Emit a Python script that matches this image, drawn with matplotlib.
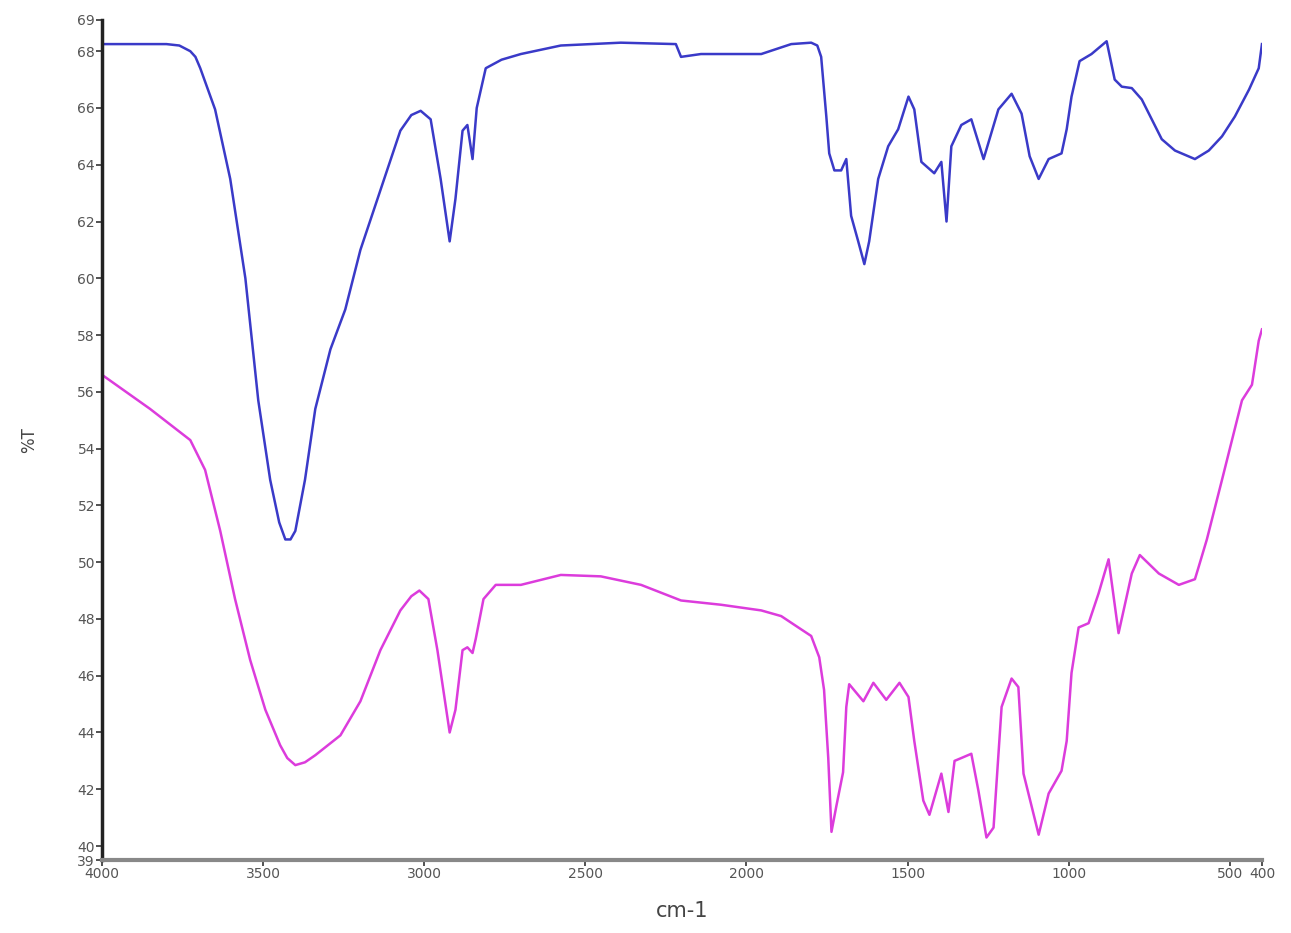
import numpy as np
import matplotlib
matplotlib.use("Agg")
import matplotlib.pyplot as plt

# wavenumber (cm-1) and %T
wn_blue = [4000, 3800, 3760, 3726, 3710, 3695, 3649, 3602, 3555, 3515, 3478, 3450, 3431, 3415, 3400,
           3370, 3338, 3291, 3245, 3198, 3136, 3074, 3040, 3011, 2980, 2949, 2921, 2903, 2881, 2866,
           2850, 2837, 2809, 2760, 2700, 2576, 2390, 2219, 2203, 2141, 1954, 1861, 1799, 1780, 1768,
           1752, 1743, 1727, 1706, 1690, 1675, 1653, 1634, 1619, 1591, 1560, 1529, 1497, 1479, 1457,
           1417, 1395, 1379, 1364, 1333, 1302, 1264, 1218, 1177, 1146, 1121, 1093, 1062, 1022, 1006,
           991, 966, 929, 882, 857, 835, 804, 773, 742, 711, 670, 608, 565, 524, 484, 440, 410, 400]
t_blue = [68.25, 68.25, 68.2, 68.0, 67.8, 67.4, 65.95, 63.5, 60.0, 55.7, 52.9, 51.4, 50.8, 50.8, 51.1,
          52.9, 55.4, 57.5, 58.9, 61.0, 63.1, 65.2, 65.75, 65.9, 65.6, 63.5, 61.3, 62.8, 65.2, 65.4,
          64.2, 66.0, 67.4, 67.7, 67.9, 68.2, 68.3, 68.25, 67.8, 67.9, 67.9, 68.25, 68.3, 68.2, 67.8,
          65.7, 64.4, 63.8, 63.8, 64.2, 62.2, 61.3, 60.5, 61.3, 63.5, 64.65, 65.25, 66.4, 65.95, 64.1,
          63.7, 64.1, 62.0, 64.65, 65.4, 65.6, 64.2, 65.95, 66.5, 65.8, 64.3, 63.5, 64.2, 64.4, 65.25,
          66.4, 67.65, 67.9, 68.35, 67.0, 66.75, 66.7, 66.3, 65.6, 64.9, 64.5, 64.2, 64.5, 65.0, 65.7, 66.65, 67.4, 68.25]

wn_mag = [4000, 3851, 3726, 3680, 3633, 3587, 3540, 3493, 3447, 3425, 3400, 3370, 3338, 3260, 3198,
          3136, 3074, 3040, 3015, 2987, 2959, 2921, 2903, 2881, 2866, 2850, 2840, 2816, 2778, 2700,
          2576, 2452, 2327, 2203, 2079, 1954, 1892, 1839, 1799, 1774, 1759, 1746, 1736, 1721, 1700,
          1690, 1681, 1637, 1606, 1566, 1525, 1497, 1479, 1451, 1432, 1395, 1373, 1354, 1333, 1302,
          1280, 1255, 1233, 1208, 1177, 1156, 1140, 1093, 1062, 1022, 1006, 991, 969, 938, 907,
          876, 845, 804, 779, 720, 658, 608, 596, 571, 524, 462, 431, 410, 400]
t_mag = [56.6, 55.4, 54.3, 53.25, 51.1, 48.7, 46.55, 44.8, 43.55, 43.1, 42.85, 42.95, 43.2, 43.9, 45.1,
         46.9, 48.3, 48.8, 49.0, 48.7, 46.9, 44.0, 44.8, 46.9, 47.0, 46.8, 47.3, 48.7, 49.2, 49.2,
         49.55, 49.5, 49.2, 48.65, 48.5, 48.3, 48.1, 47.7, 47.4, 46.65, 45.5, 43.1, 40.5, 41.4, 42.6,
         44.9, 45.7, 45.1, 45.75, 45.15, 45.75, 45.25, 43.7, 41.6, 41.1, 42.55, 41.2, 43.0, 43.1, 43.25,
         41.95, 40.3, 40.65, 44.9, 45.9, 45.6, 42.55, 40.4, 41.85, 42.65, 43.7, 46.1, 47.7, 47.85, 48.9,
         50.1, 47.5, 49.6, 50.25, 49.6, 49.2, 49.4, 49.85, 50.8, 52.9, 55.7, 56.25, 57.8, 58.2]

y_lo, y_hi = 39.5, 69.1
yticks = [y_lo] + list(range(40, 69, 2)) + [y_hi]
ylabels = ["39"] + [str(v) for v in range(40, 69, 2)] + ["69"]
xticks = [4000, 3500, 3000, 2500, 2000, 1500, 1000, 500, 400]

fig = plt.figure(figsize=(12.91, 9.33), dpi=100)
ax = fig.add_axes([0.079, 0.078, 0.8985, 0.9006])

ax.plot(wn_blue, t_blue, color="#3a3ac8", lw=1.8)
ax.plot(wn_mag, t_mag, color="#dc3cdc", lw=1.8)

ax.set_xlim(4000, 400)
ax.set_ylim(y_lo, y_hi)
ax.set_xticks(xticks)
ax.set_xticklabels([str(v) for v in xticks], fontsize=10, color="#555555")
ax.set_yticks(yticks)
ax.set_yticklabels(ylabels, fontsize=10, color="#555555")
ax.tick_params(axis="both", length=4, width=1.2, color="#333333", pad=1)

for s in ["top", "right"]:
    ax.spines[s].set_visible(False)
ax.spines["left"].set_linewidth(2.5)
ax.spines["left"].set_color("#222222")
ax.spines["bottom"].set_linewidth(3)
ax.spines["bottom"].set_color("#888888")

ax.set_xlabel("cm-1", fontsize=15, color="#444444", labelpad=14)
ax.set_ylabel("%T", fontsize=12, color="#444444", labelpad=28)

fig.savefig("out.png", dpi=100)
